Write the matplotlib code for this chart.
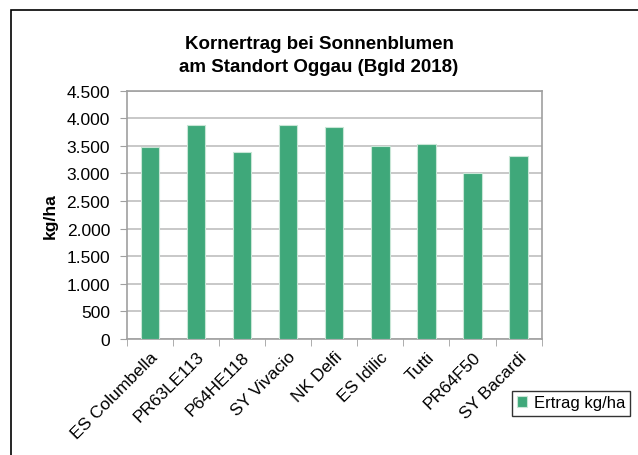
import matplotlib.pyplot as plt
from matplotlib.patches import Rectangle

plt.rcParams['font.family'] = ['Liberation Sans', 'DejaVu Sans']

# Sorten und Kornertrag (kg/ha)
sorten = ['ES Columbella', 'PR63LE113', 'P64HE118', 'SY Vivacio', 'NK Delfi',
          'ES Idilic', 'Tutti', 'PR64F50', 'SY Bacardi']
ertrag = [3470, 3875, 3395, 3875, 3845, 3500, 3525, 3005, 3315]
yticks = list(range(0, 4501, 500))
ylabels = ['0', '500', '1.000', '1.500', '2.000', '2.500', '3.000', '3.500', '4.000', '4.500']

fig = plt.figure(figsize=(6.38, 4.56), dpi=100)
# Rahmen um das Diagramm
fig.patches.append(Rectangle((11 / 638, -0.1), 1.2, 1 - 11 / 456 + 0.1,
                             transform=fig.transFigure, fill=False,
                             edgecolor='black', linewidth=1.2))

ax = fig.add_axes([0.1986, 0.2544, 0.6505, 0.5446])
x = list(range(len(sorten)))
ax.bar(x, ertrag, width=0.4, color='#3fa87a', edgecolor='#c8e6d6',
       linewidth=0.8, label='Ertrag kg/ha', zorder=3)

ax.set_xlim(-0.5, len(sorten) - 0.5)
ax.set_ylim(0, 4500)
ax.set_yticks(yticks)
ax.set_yticklabels(ylabels, fontsize=12.5)
ax.yaxis.grid(True, color='#bfbfbf', linewidth=1.2, zorder=0)

ax.set_xticks(x)
ax.set_xticklabels(sorten, rotation=45, ha='right', rotation_mode='anchor', fontsize=12.5)
ax.tick_params(axis='x', length=0, pad=7)
ax.set_xticks([i + 0.5 for i in range(-1, len(sorten))], minor=True)
ax.tick_params(axis='x', which='minor', length=5, color='#a0a0a0', direction='out')
ax.tick_params(axis='y', length=5, color='#a0a0a0', direction='out', pad=7)

for s in ax.spines.values():
    s.set_color('#a0a0a0')
    s.set_linewidth(1.2)

ax.set_ylabel('kg/ha', fontsize=12.5, fontweight='bold', labelpad=6)
fig.text(0.5, 0.877, 'Kornertrag bei Sonnenblumen\nam Standort Oggau (Bgld 2018)',
         ha='center', va='center', fontsize=13.5, fontweight='bold', linespacing=1.4)

leg = fig.legend(loc='center', bbox_to_anchor=(571 / 638, 1 - 404 / 456), fontsize=12,
                 frameon=True, fancybox=False, edgecolor='black', handlelength=0.6,
                 handleheight=0.6, handletextpad=0.4, borderpad=0.3)
leg.get_frame().set_linewidth(1.0)

fig.savefig('out.png', dpi=100)
